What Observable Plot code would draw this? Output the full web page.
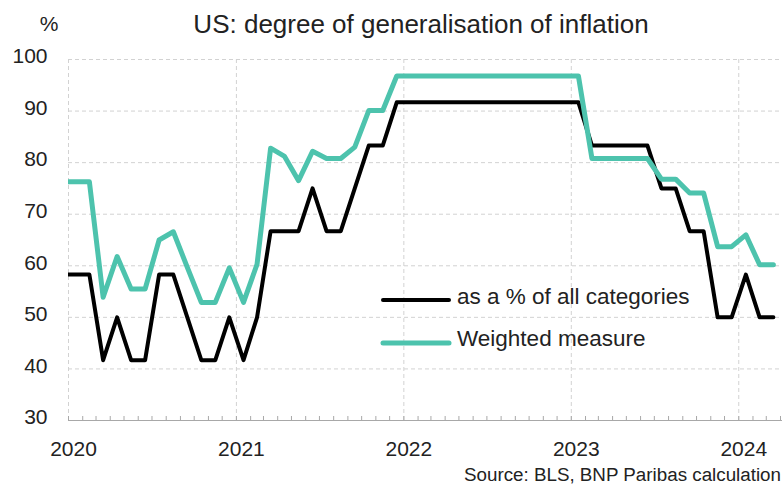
<!DOCTYPE html>
<html>
<head>
<meta charset="utf-8">
<script src="https://cdn.jsdelivr.net/npm/d3@7"></script>
<script src="https://cdn.jsdelivr.net/npm/@observablehq/plot@0.6"></script>
<style>
html,body{margin:0;padding:0;background:#fff;}
#wrap{position:relative;width:782px;height:486px;overflow:hidden;font-family:"Liberation Sans",Arial,sans-serif;color:#222;}
#wrap > svg{position:absolute;left:0;top:0;}
.t{position:absolute;white-space:nowrap;line-height:1;}
.sw{position:absolute;}
</style>
</head>
<body>
<div id="wrap"></div>
<script>
// ---- data ----
const months = [
  "2019-12",
  "2020-01","2020-02","2020-03","2020-04","2020-05","2020-06","2020-07","2020-08","2020-09","2020-10","2020-11","2020-12",
  "2021-01","2021-02","2021-03","2021-04","2021-05","2021-06","2021-07","2021-08","2021-09","2021-10","2021-11","2021-12",
  "2022-01","2022-02","2022-03","2022-04","2022-05","2022-06","2022-07","2022-08","2022-09","2022-10","2022-11","2022-12",
  "2023-01","2023-02","2023-03","2023-04","2023-05","2023-06","2023-07","2023-08","2023-09","2023-10","2023-11","2023-12",
  "2024-01","2024-02","2024-03"
];
const allCategories = [
  58.3,
  58.3,58.3,41.7,50,41.7,41.7,58.3,58.3,50,41.7,41.7,50,
  41.7,50,66.7,66.7,66.7,75,66.7,66.7,75,83.3,83.3,91.7,
  91.7,91.7,91.7,91.7,91.7,91.7,91.7,91.7,91.7,91.7,91.7,91.7,
  91.7,83.3,83.3,83.3,83.3,83.3,75,75,66.7,66.7,50,50,
  58.3,50,50
];
const weighted = [
  76.3,
  76.3,76.3,53.9,61.8,55.5,55.5,65,66.6,59.7,52.9,52.9,59.6,
  52.9,60.3,82.8,81.2,76.5,82.2,80.8,80.8,83,90.1,90.1,96.8,
  96.8,96.8,96.8,96.8,96.8,96.8,96.8,96.8,96.8,96.8,96.8,96.8,
  96.8,80.8,80.8,80.8,80.8,80.8,76.8,76.8,74.1,74.1,63.7,63.7,
  66,60.2,60.2
];
const yTicks = [30,40,50,60,70,80,90,100];
const yearTicks = ["2020","2021","2022","2023","2024"];
const seriesNames = ["as a % of all categories","Weighted measure"];
const seriesColors = ["#000000","#4dc3ad"];
const titleText = "US: degree of generalisation of inflation";
const unitText = "%";
const sourceText = "Source: BLS, BNP Paribas calculation";

// ---- build ----
const parseM = d3.utcParse("%Y-%m");
const parseY = d3.utcParse("%Y");
const mid = s => { const a = parseM(s); const b = d3.utcMonth.offset(a, 1); return new Date((+a + +b) / 2); };
const rows = months.map((m, i) => ({date: mid(m), all: allCategories[i], w: weighted[i]}));
const years = yearTicks.map(parseY);
const xStart = parseM("2020-01");
const xEnd = parseM("2024-04");
const monthTicks = d3.utcMonth.range(xStart, d3.utcDay.offset(xEnd, 1));
const grid = {stroke: "#d2d2d2", strokeOpacity: 1, strokeDasharray: "4,3", strokeWidth: 1};
const font = "'Liberation Sans', Arial, sans-serif";

const chart = Plot.plot({
  width: 782,
  height: 486,
  marginTop: 59,
  marginBottom: 66,
  marginLeft: 68,
  marginRight: 2,
  style: {fontFamily: font, fontSize: "21px", color: "#222", background: "transparent", overflow: "visible"},
  x: {type: "utc", domain: [xStart, xEnd], label: null},
  y: {domain: [30, 100], label: null},
  marks: [
    Plot.gridY(yTicks.slice(1), {...grid, insetRight: -2}),
    Plot.gridX(years, grid),
    Plot.ruleY([30], {stroke: "#a8a8a8", strokeWidth: 1, insetRight: -2}),
    Plot.axisX(monthTicks, {tickSize: 4, dy: -4, tickFormat: () => "", stroke: "#a8a8a8"}),
    Plot.axisX(years, {tickSize: 0, tickPadding: 21, dx: 5, tickFormat: d3.utcFormat("%Y"), fontSize: 21, fill: "#222"}),
    Plot.axisY(yTicks, {tickSize: 0, tickPadding: 21, dy: -3, fontSize: 21, fill: "#222"}),
    Plot.lineY(rows, {x: "date", y: "all", stroke: seriesColors[0], strokeWidth: 4, strokeLinejoin: "round", clip: true}),
    Plot.lineY(rows, {x: "date", y: "w", stroke: seriesColors[1], strokeWidth: 5, strokeLinejoin: "round", clip: true})
  ]
});

const wrap = document.getElementById("wrap");
wrap.appendChild(chart);

function addText(txt, style) {
  const d = document.createElement("div");
  d.className = "t";
  d.textContent = txt;
  Object.assign(d.style, style);
  wrap.appendChild(d);
  return d;
}
addText(titleText, {left: "421px", top: "11px", fontSize: "26px", transform: "translateX(-50%)"});
addText(unitText, {left: "49px", top: "13px", fontSize: "21px", transform: "translateX(-50%)"});
addText(sourceText, {right: "1px", top: "466px", fontSize: "18.8px"});

// legend
const legendRows = [{y: 300, ty: 286, w: 4}, {y: 343, ty: 328, w: 5}];
seriesNames.forEach((name, i) => {
  const r = legendRows[i];
  const ns = "http://www.w3.org/2000/svg";
  const s = document.createElementNS(ns, "svg");
  s.setAttribute("class", "sw");
  s.setAttribute("width", 76);
  s.setAttribute("height", 10);
  s.style.left = "378px";
  s.style.top = (r.y - 5) + "px";
  const l = document.createElementNS(ns, "line");
  l.setAttribute("x1", 5); l.setAttribute("x2", 71);
  l.setAttribute("y1", 5); l.setAttribute("y2", 5);
  l.setAttribute("stroke", seriesColors[i]);
  l.setAttribute("stroke-width", r.w);
  l.setAttribute("stroke-linecap", "round");
  s.appendChild(l);
  wrap.appendChild(s);
  addText(name, {left: "457px", top: r.ty + "px", fontSize: "22.5px"});
});
</script>
</body>
</html>
